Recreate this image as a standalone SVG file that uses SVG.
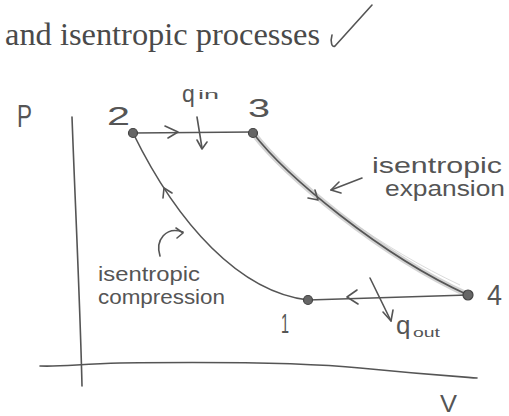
<svg xmlns="http://www.w3.org/2000/svg" width="509" height="416" viewBox="0 0 509 416">
<style>
.pen{fill:none;stroke:#555;stroke-width:1.6;stroke-linecap:round;stroke-linejoin:round}
.hand{font-family:"Liberation Sans","DejaVu Sans",sans-serif;fill:#555}
.dot{fill:#666;stroke:#444;stroke-width:1.2}
</style>
<rect width="509" height="416" fill="#ffffff"/>
<text x="5" y="45" font-family="Liberation Serif, serif" font-size="32" fill="#4a4a4a" textLength="315" lengthAdjust="spacingAndGlyphs">and isentropic processes</text>
<path class="pen" d="M332,35 C330,42 332,48 335,46 L372,5" stroke="#888" stroke-width="1.2"/>
<g id="axes">
<path class="pen" d="M72,117 C75,200 80,300 82,386"/>
<path class="pen" d="M40,366 C60,367 80,364 120,363 C200,362 300,362 360,368 C420,374 450,376 477,378"/>
<text class="hand" x="17" y="127" font-size="32" textLength="15" lengthAdjust="spacingAndGlyphs">P</text>
<text class="hand" x="440" y="412" font-size="23" textLength="17" lengthAdjust="spacingAndGlyphs">V</text>
</g>
<g id="connectors">
<path class="pen" d="M133,133 L253,132"/>
<path class="pen" d="M165,126 L178,132 L168,138"/>
<path d="M253,133 C285,175 380,255 468,295" fill="none" stroke="#aaa" stroke-width="6" opacity="0.5"/>
<path d="M258,140 C300,190 385,250 460,285" fill="none" stroke="#ccc" stroke-width="1" opacity="0.7"/>
<path class="pen" d="M253,133 C285,175 380,255 468,295" stroke="#4a4a4a" stroke-width="2.6"/>
<path class="pen" d="M308,198 L318,200 L315,190"/>
<path class="pen" d="M468,295 L308,300"/>
<path class="pen" d="M357,290 L347,297 L358,304"/>
<path class="pen" d="M308,300 C240,292 178,225 133,133" stroke-width="1.4"/>
<path class="pen" d="M163,198 L164,188 L172,193" stroke-width="1.4"/>
</g>
<g id="node-2">
<circle class="dot" cx="133" cy="133" r="4.5"/>
<text class="hand" x="107" y="125" font-size="25" textLength="23" lengthAdjust="spacingAndGlyphs">2</text>
</g>
<g id="node-3">
<circle class="dot" cx="253" cy="133" r="4.5"/>
<text class="hand" x="248" y="117" font-size="25" textLength="22" lengthAdjust="spacingAndGlyphs">3</text>
</g>
<g id="node-4">
<circle class="dot" cx="468" cy="295" r="5"/>
<text class="hand" x="487" y="305" font-size="29" textLength="15" lengthAdjust="spacingAndGlyphs">4</text>
</g>
<g id="node-1">
<circle class="dot" cx="308" cy="300" r="4.5"/>
<text class="hand" x="281" y="333" font-size="28" textLength="8" lengthAdjust="spacingAndGlyphs">1</text>
</g>
<g id="q-in">
<path class="pen" d="M197,117 L202,148"/>
<path class="pen" d="M197,140 L202,149 L207,142"/>
<text class="hand" x="182" y="102" font-size="23">q</text>
<text class="hand" x="198" y="99" font-size="13" textLength="21" lengthAdjust="spacingAndGlyphs">in</text>
</g>
<g id="q-out">
<path class="pen" d="M370,278 L391,321"/>
<path class="pen" d="M383,312 L391,321 L393,310"/>
<text class="hand" x="396" y="334" font-size="26">q</text>
<text class="hand" x="413" y="337" font-size="13" textLength="27" lengthAdjust="spacingAndGlyphs">out</text>
</g>
<g id="label-expansion">
<path class="pen" d="M362,178 L331,190"/>
<path class="pen" d="M339,182 L331,190 L341,193"/>
<text class="hand" x="372" y="173" font-size="22" textLength="130" lengthAdjust="spacingAndGlyphs">isentropic</text>
<text class="hand" x="385" y="196" font-size="22" textLength="120" lengthAdjust="spacingAndGlyphs">expansion</text>
</g>
<g id="label-compression">
<path class="pen" d="M160,256 C155,240 166,226 183,232" stroke-width="1.4"/>
<path class="pen" d="M176,228 L183,233 L177,238" stroke-width="1.4"/>
<text class="hand" x="98" y="281" font-size="20" textLength="102" lengthAdjust="spacingAndGlyphs">isentropic</text>
<text class="hand" x="98" y="304" font-size="20" textLength="127" lengthAdjust="spacingAndGlyphs">compression</text>
</g>
</svg>
